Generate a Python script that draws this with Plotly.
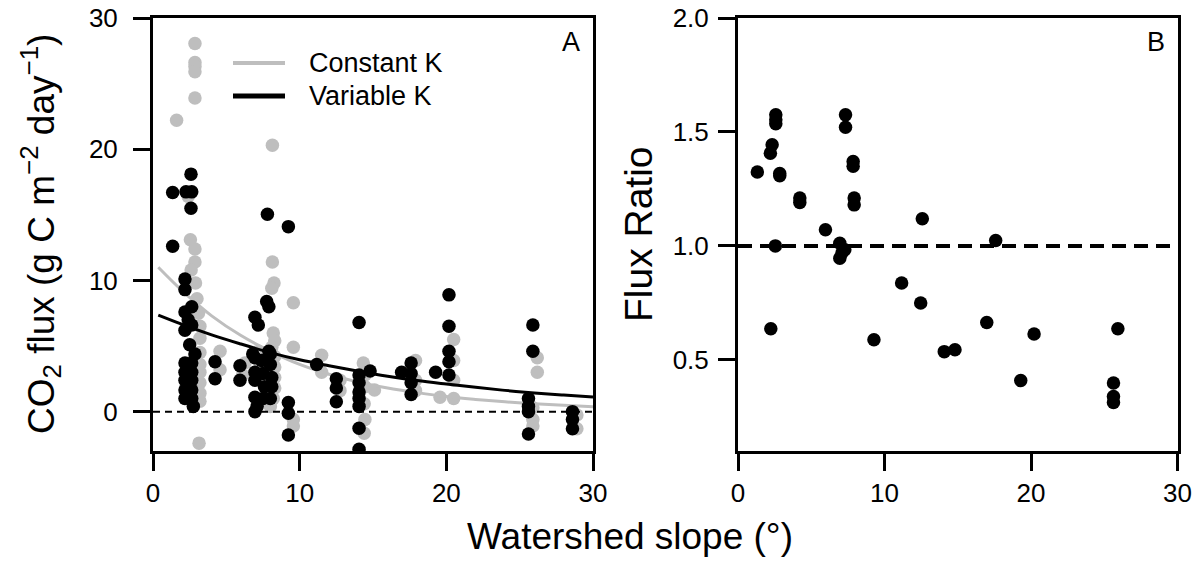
import plotly.graph_objects as go

# ---------------- data ----------------
# Panel A: constant-K fluxes (grey points)
const_x = [2.86, 2.86, 2.86, 2.86, 2.86, 1.61, 2.4, 2.55, 2.86, 2.86, 2.6, 2.9, 3.0, 3.1, 3.2, 3.2,
           3.2, 3.2, 3.2, 3.2, 3.2, 3.2, 3.14,
           4.57, 4.57, 6.27, 6.1,
           8.14, 8.14, 8.25, 8.1, 8.2, 8.3, 8.1, 8.3, 8.3, 8.3, 8.3, 8.2, 8.0, 7.2, 7.3,
           9.57, 9.57, 9.57, 9.57,
           11.5, 11.5, 12.75, 12.75,
           14.34, 14.45, 14.45, 15.1, 14.45, 14.4, 14.4,
           17.9, 17.9, 17.9, 19.57,
           20.5, 20.5, 20.5, 20.5,
           26.2, 26.2, 25.9, 25.9, 25.9,
           28.9, 28.9]
const_y = [28.05, 26.6, 26.3, 25.9, 23.9, 22.2, 16.4, 13.1, 12.4, 11.4, 10.8, 9.8, 8.6, 7.5, 6.5, 5.6,
           4.5, 3.6, 3.0, 2.2, 1.4, 0.8, -2.4,
           4.6, 3.2, 3.7, 2.8,
           20.3, 11.4, 9.8, 9.4, 6.0, 5.4, 4.9, 4.2, 3.4, 2.6, 1.8, 1.0, 0.4, 4.6, 3.6,
           8.3, 4.9, -0.6, -1.1,
           4.3, 3.0, 2.4, 1.6,
           3.7, 2.8, 1.9, 1.65, -0.6, -1.65, 0.6,
           3.9, 2.4, 1.6, 1.1,
           5.5, 3.9, 2.4, 1.0,
           4.1, 3.0, -0.6, -1.1, 0.3,
           -0.25, -1.3]

# Panel A: variable-K fluxes (black points)
var_x = [1.34, 1.34,
         2.59, 2.25, 2.64, 2.59,
         2.18, 2.18, 2.18, 2.64, 2.4, 2.18, 2.64, 2.5, 2.86,
         2.18, 2.64, 2.18, 2.64, 2.18, 2.64, 2.18, 2.64, 2.18, 2.64, 2.75,
         4.23, 4.23, 5.93, 5.93,
         6.95, 7.18, 7.8, 7.75, 7.9, 8.0,
         6.95, 7.4, 8.0, 6.95, 7.5, 8.1, 6.95, 7.6, 8.1, 6.95, 7.5, 7.1, 6.95, 8.0, 6.8, 7.9,
         9.23, 9.23, 9.23, 9.23,
         11.16,
         12.5, 12.5, 12.5,
         14.05, 14.05, 14.05, 14.05, 14.05, 14.05, 14.05, 14.05,
         14.8, 16.95,
         17.6, 17.6, 17.6, 17.6,
         19.27,
         20.18, 20.18, 20.18, 20.18, 20.18,
         25.9, 25.9, 25.6, 25.6, 25.6, 25.6,
         28.6, 28.6, 28.6]
var_y = [16.7, 12.6,
         18.1, 16.75, 16.75, 15.5,
         10.1, 9.3, 7.6, 8.0, 7.0, 6.2, 6.6, 5.1, 4.4,
         3.7, 3.7, 3.0, 3.0, 2.4, 2.4, 1.65, 1.65, 1.0, 1.0, 0.4,
         3.8, 2.5, 3.5, 2.4,
         7.2, 6.6, 15.05, 8.4, 8.0, 4.4,
         4.1, 3.9, 3.6, 3.0, 2.9, 2.6, 2.4, 1.9, 1.9, 1.1, 1.0, 0.4, 0.0, 1.0, 4.4, 4.6,
         14.1, 0.7, -0.13, -1.78,
         3.6,
         2.5, 1.8, 0.76,
         6.8, 2.8, 2.2, 1.5, 1.0, 0.4, -1.27, -2.87,
         3.1, 3.0,
         3.7, 2.9, 2.2, 1.3,
         3.0,
         8.9, 6.5, 4.6, 3.8, 2.8,
         6.6, 4.6, 1.0, 0.4, 0.0, -1.7,
         0.0, -0.6, -1.3]

# Fitted curves
fit_x = [0.36, 2, 4, 6, 8, 10, 12, 14, 16, 18, 20, 22, 24, 26, 28, 30]
fit_const = [11.0, 9.2, 7.3, 5.8, 4.6, 3.6, 2.85, 2.25, 1.8, 1.45, 1.15, 0.93, 0.75, 0.6, 0.48, 0.38]
fit_var = [7.36, 6.65, 5.85, 5.15, 4.5, 3.95, 3.5, 3.08, 2.7, 2.37, 2.1, 1.85, 1.62, 1.42, 1.26, 1.12]

# Panel B: flux ratio
ratio_x = [1.32, 2.58, 2.58, 2.58, 2.33, 2.21, 2.85, 2.85, 2.55, 2.24,
           4.22, 4.22, 5.97, 6.95, 7.29, 6.95, 7.1, 7.34, 7.34, 7.86, 7.86, 7.93, 7.93,
           9.28, 11.17, 12.58, 12.47, 14.08, 14.81, 16.98, 17.59, 19.3, 20.21,
           25.93, 25.63, 25.63, 25.63]
ratio_y = [1.324, 1.575, 1.553, 1.536, 1.444, 1.407, 1.308, 1.318, 1.0, 0.636,
           1.21, 1.19, 1.071, 1.012, 0.983, 0.946, 0.97, 1.575, 1.521, 1.37, 1.35, 1.21, 1.18,
           0.588, 0.837, 1.119, 0.749, 0.536, 0.544, 0.664, 1.024, 0.409, 0.613,
           0.636, 0.398, 0.339, 0.313]

x_ticks = [0, 10, 20, 30]
yA_ticks = [0, 10, 20, 30]
yB_ticks = [0.5, 1.0, 1.5, 2.0]
yB_labels = ["0.5", "1.0", "1.5", "2.0"]

# ---------------- figure ----------------
W, H = 1203, 564
GREY = "#bebebe"
FONT = "Liberation Sans, Arial, sans-serif"

fig = go.Figure()

fig.add_trace(go.Scatter(x=const_x, y=const_y, mode="markers", xaxis="x", yaxis="y",
                         marker=dict(color=GREY, size=13.5, line=dict(width=0)), showlegend=False))
fig.add_trace(go.Scatter(x=fit_x, y=fit_const, mode="lines", xaxis="x", yaxis="y",
                         line=dict(color=GREY, width=3, shape="spline"), showlegend=False))
fig.add_trace(go.Scatter(x=var_x, y=var_y, mode="markers", xaxis="x", yaxis="y",
                         marker=dict(color="black", size=13.5, line=dict(width=0)), showlegend=False))
fig.add_trace(go.Scatter(x=fit_x, y=fit_var, mode="lines", xaxis="x", yaxis="y",
                         line=dict(color="black", width=3, shape="spline"), showlegend=False))
# zero reference line
fig.add_trace(go.Scatter(x=[0, 30], y=[0, 0], mode="lines", xaxis="x", yaxis="y",
                         line=dict(color="black", width=2, dash="7px,5px"), showlegend=False))

fig.add_trace(go.Scatter(x=[0, 30], y=[1, 1], mode="lines", xaxis="x2", yaxis="y2",
                         line=dict(color="black", width=4, dash="14px,8px"), showlegend=False))
fig.add_trace(go.Scatter(x=ratio_x, y=ratio_y, mode="markers", xaxis="x2", yaxis="y2",
                         marker=dict(color="black", size=13.5, line=dict(width=0)), showlegend=False))

ydom = [1 - 451 / H, 1 - 18 / H]
axis_common = dict(showline=True, linecolor="black", linewidth=3, mirror=True,
                   ticks="outside", ticklen=17, tickwidth=3, tickcolor="black",
                   showgrid=False, zeroline=False, automargin=False,
                   tickfont=dict(family=FONT, size=26, color="black"))

fig.update_layout(
    width=W, height=H,
    margin=dict(l=0, r=0, t=0, b=0),
    paper_bgcolor="white", plot_bgcolor="white",
    showlegend=False,
    xaxis=dict(domain=[153 / W, 593 / W], range=[0, 30], tickvals=x_ticks,
               anchor="y", ticklabelstandoff=0, **axis_common),
    yaxis=dict(domain=ydom, range=[-3, 30], tickvals=yA_ticks, anchor="x",
               ticklabelstandoff=10, **axis_common),
    xaxis2=dict(domain=[738 / W, 1177.5 / W], range=[0, 30], tickvals=x_ticks,
                anchor="y2", ticklabelstandoff=0, **axis_common),
    yaxis2=dict(domain=ydom, range=[0.1, 2.0], tickvals=yB_ticks, ticktext=yB_labels,
                anchor="x2", ticklabelstandoff=4, **axis_common),
)

# legend (panel A)
fig.add_shape(type="line", xref="paper", yref="paper", x0=233 / W, x1=285 / W,
              y0=1 - 63 / H, y1=1 - 63 / H, line=dict(color=GREY, width=4))
fig.add_shape(type="line", xref="paper", yref="paper", x0=233 / W, x1=285 / W,
              y0=1 - 96 / H, y1=1 - 96 / H, line=dict(color="black", width=5))

ann = []
def txt(x, y, s, size, **kw):
    ann.append(dict(x=x / W, y=1 - y / H, xref="paper", yref="paper", text=s, showarrow=False,
                    font=dict(family=FONT, size=size, color="black"), **kw))

txt(307, 63, "Constant K", 27, xanchor="left", yanchor="middle")
txt(307, 96, "Variable K", 27, xanchor="left", yanchor="middle")
txt(571, 42, "A", 27, xanchor="center", yanchor="middle")
txt(1156, 42, "B", 27, xanchor="center", yanchor="middle")
txt(630, 536, "Watershed slope (°)", 37, xanchor="center", yanchor="middle")
txt(40, 234, "CO<sub>2</sub> flux (g C m<sup>−2</sup> day<sup>−1</sup>)", 37,
    xanchor="center", yanchor="middle", textangle=-90)
txt(638, 234, "Flux Ratio", 39, xanchor="center", yanchor="middle", textangle=-90)
fig.update_layout(annotations=ann)

fig.write_html("out.html", config={"displayModeBar": False},
               post_script="document.body.style.margin='0';")
